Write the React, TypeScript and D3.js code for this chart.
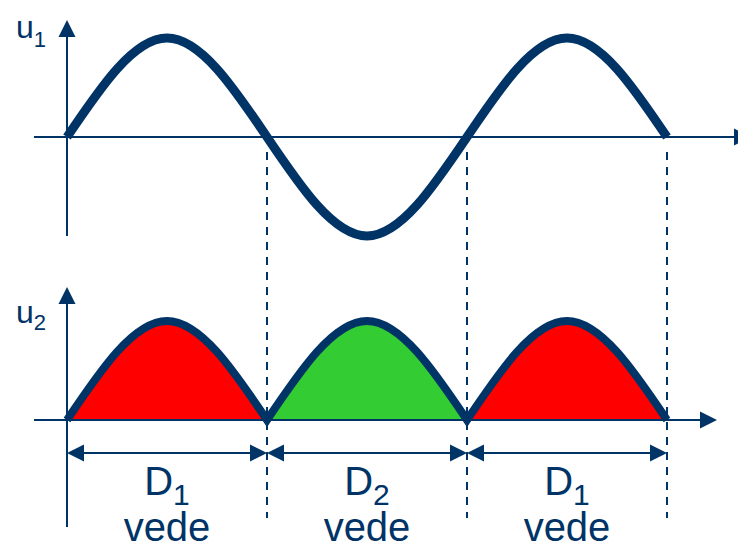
import React from "react";
import * as d3 from "d3";

// Input voltage u1: key points (time in periods, normalized amplitude)
const u1Times = [0, 0.25, 0.5, 0.75, 1, 1.25, 1.5];
const u1Values = [0, 1, 0, -1, 0, 1, 0];

// Rectified output u2: one hump per conducting half-period
const humpStarts = [0, 0.5, 1.0];
const humpPeaks = [1, 1, 1];
const humpDiodes = ["1", "2", "1"];

// Axis labels
const axisLabels = [
  { main: "u", sub: "1" },
  { main: "u", sub: "2" },
];

const NAVY = "#003366";
const diodeColor: Record<string, string> = { "1": "#ff0000", "2": "#33cc33" };
const FONT = "'Liberation Sans', Arial, Helvetica, sans-serif";

const W = 738;
const H = 547;

function Head({ tx, ty, dx, dy, len = 17, hw = 8.5 }: any) {
  // tip (tx,ty), direction (dx,dy) unit
  const bx = tx - dx * len;
  const by = ty - dy * len;
  const px = -dy * hw;
  const py = dx * hw;
  return (
    <polygon
      points={`${tx},${ty} ${bx + px},${by + py} ${bx - px},${by - py}`}
      fill={NAVY}
    />
  );
}

export default function App() {
  const x = d3.scaleLinear().domain([0, 1.5]).range([67, 667]);
  const yTop = d3.scaleLinear().domain([-1, 1]).range([236, 38]);
  const yBot = d3.scaleLinear().domain([0, 1]).range([420, 321]);

  const topPts: [number, number][] = u1Times.map((t, i) => [t, u1Values[i]]);
  const topLine = d3
    .line<[number, number]>()
    .x((d) => x(d[0]))
    .y((d) => yTop(d[1]))
    .curve(d3.curveNatural);

  const humps = humpStarts.map((s, i) => {
    const pts: [number, number][] = [
      [s, 0],
      [s + 0.25, humpPeaks[i]],
      [s + 0.5, 0],
    ];
    return { pts, diode: humpDiodes[i], start: s, end: s + 0.5 };
  });

  const botLine = d3
    .line<[number, number]>()
    .x((d) => x(d[0]))
    .y((d) => yBot(d[1]))
    .curve(d3.curveNatural);
  const botArea = d3
    .area<[number, number]>()
    .x((d) => x(d[0]))
    .y0(yBot(0))
    .y1((d) => yBot(d[1]))
    .curve(d3.curveNatural);

  const strokePath = humps
    .map((h, i) => {
      const s = botLine(h.pts) || "";
      return i === 0 ? s : s.replace(/^M[^C]*/, "");
    })
    .join("");

  const dimY = 453;
  const dashX = [0.5, 1.0, 1.5];

  return (
    <svg
      width={W}
      height={H}
      style={{ position: "absolute", left: 0, top: 0, background: "#fff" }}
      fontFamily={FONT}
    >
      {/* ---------- top chart ---------- */}
      <line x1={34} y1={yTop(0)} x2={734} y2={yTop(0)} stroke={NAVY} strokeWidth={2} />
      <Head tx={751} ty={yTop(0)} dx={1} dy={0} />
      <line x1={x(0)} y1={236} x2={x(0)} y2={36} stroke={NAVY} strokeWidth={2} />
      <Head tx={x(0)} ty={20} dx={0} dy={-1} />
      <path d={topLine(topPts) || ""} fill="none" stroke={NAVY} strokeWidth={9} />

      {/* dashed verticals */}
      {dashX.map((t, i) => (
        <line
          key={i}
          x1={x(t)}
          y1={152}
          x2={x(t)}
          y2={518}
          stroke={NAVY}
          strokeWidth={2}
          strokeDasharray="8,7"
        />
      ))}

      {/* ---------- bottom chart ---------- */}
      {humps.map((h, i) => (
        <path key={i} d={botArea(h.pts) || ""} fill={diodeColor[h.diode]} />
      ))}
      <line x1={34} y1={yBot(0)} x2={701} y2={yBot(0)} stroke={NAVY} strokeWidth={2} />
      <Head tx={717} ty={yBot(0)} dx={1} dy={0} />
      <line x1={x(0)} y1={527} x2={x(0)} y2={302} stroke={NAVY} strokeWidth={2} />
      <Head tx={x(0)} ty={287} dx={0} dy={-1} />
      <path
        d={strokePath}
        fill="none"
        stroke={NAVY}
        strokeWidth={8}
        strokeLinejoin="miter"
      />

      {/* dimension arrows + labels */}
      {humps.map((h, i) => {
        const a = x(h.start);
        const b = x(h.end);
        const c = (a + b) / 2;
        return (
          <g key={i}>
            <line x1={a + 2} y1={dimY} x2={b - 2} y2={dimY} stroke={NAVY} strokeWidth={2} />
            <Head tx={a} ty={dimY} dx={-1} dy={0} />
            <Head tx={b} ty={dimY} dx={1} dy={0} />
            <text x={c} y={495} textAnchor="middle" fill={NAVY} fontSize={40}>
              D
              <tspan fontSize={30} dy={10}>
                {h.diode}
              </tspan>
            </text>
            <text x={c} y={541} textAnchor="middle" fill={NAVY} fontSize={40}>
              vede
            </text>
          </g>
        );
      })}

      {/* axis labels */}
      <text x={16} y={38} fill={NAVY} fontSize={32}>
        {axisLabels[0].main}
        <tspan fontSize={22} dy={9}>
          {axisLabels[0].sub}
        </tspan>
      </text>
      <text x={16} y={323} fill={NAVY} fontSize={32}>
        {axisLabels[1].main}
        <tspan fontSize={22} dy={7}>
          {axisLabels[1].sub}
        </tspan>
      </text>
    </svg>
  );
}
